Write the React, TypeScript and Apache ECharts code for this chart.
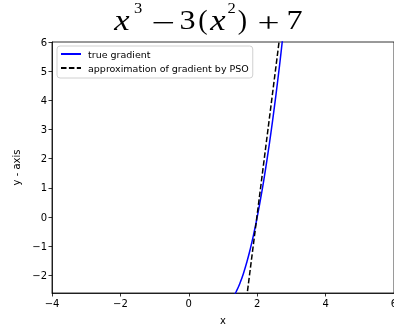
import React, { useEffect, useRef } from "react";
import * as echarts from "echarts";

const trueX = [1.2, 1.3, 1.4, 1.5, 1.6, 1.7, 1.8, 1.9, 2.0, 2.1, 2.2, 2.3, 2.4, 2.5, 2.6, 2.7, 2.8];
const trueY = [-2.88, -2.73, -2.52, -2.25, -1.92, -1.53, -1.08, -0.57, 0, 0.63, 1.32, 2.07, 2.88, 3.75, 4.68, 5.67, 6.72];
const psoX = [1.6, 2.8];
const psoY = [-3.61, 7.49];
const xTicks = [-4, -2, 0, 2, 4, 6];
const yTicks = [-2, -1, 0, 1, 2, 3, 4, 5, 6];
const seriesNames = ["true gradient", "approximation of gradient by PSO"];

const fmt = (v: number) => String(v).replace("-", "\u2212");

export default function App() {
  const ref = useRef<HTMLDivElement>(null);
  useEffect(() => {
    document.body.style.overflow = "hidden";
    const chart = echarts.init(ref.current!, null, { renderer: "svg" });
    const serif = "Liberation Serif";
    const t = (text: string, x: number, y: number, size: number, sx = 1, italic = false) => ({
      type: "text",
      x,
      y,
      scaleX: sx,
      style: {
        text,
        fontFamily: serif,
        fontSize: size,
        fontStyle: italic ? "italic" : "normal",
        fill: "#000",
        align: "center",
        verticalAlign: "middle",
      },
    });
    chart.setOption({
      animation: false,
      grid: { left: 52, top: 42, right: 16, bottom: 35, show: true, borderColor: "#000", borderWidth: 0.8, backgroundColor: "transparent" },
      legend: {
        left: 57,
        top: 46,
        orient: "vertical",
        itemWidth: 20,
        itemHeight: 10,
        itemGap: 4,
        padding: [3, 4, 5, 3],
        backgroundColor: "#fff",
        borderColor: "#d0d0d0",
        borderWidth: 1,
        borderRadius: 3,
        itemStyle: { opacity: 0 },
        textStyle: { fontFamily: "DejaVu Sans", fontSize: 9.5, color: "#000", padding: [0, 0, 0, 2] },
        data: seriesNames,
      },
      xAxis: {
        type: "value",
        min: -4,
        max: 6,
        interval: 2,
        name: "x",
        nameLocation: "middle",
        nameGap: 22,
        nameTextStyle: { fontFamily: "DejaVu Sans", fontSize: 10, color: "#000" },
        axisLine: { show: true, onZero: false, lineStyle: { color: "#000", width: 0.8 } },
        axisTick: { show: true, length: 3.5, lineStyle: { color: "#000", width: 0.8 }, customValues: xTicks },
        axisLabel: { fontFamily: "DejaVu Sans", fontSize: 10, color: "#000", margin: 5, formatter: fmt, customValues: xTicks, showMaxLabel: true },
        splitLine: { show: false },
      },
      yAxis: {
        type: "value",
        min: -2.6,
        max: 6,
        name: "y - axis",
        nameLocation: "middle",
        nameGap: 28,
        nameRotate: 90,
        nameTextStyle: { fontFamily: "DejaVu Sans", fontSize: 10, color: "#000" },
        axisLine: { show: true, onZero: false, lineStyle: { color: "#000", width: 0.8 } },
        axisTick: { show: true, length: 3.5, lineStyle: { color: "#000", width: 0.8 }, customValues: yTicks },
        axisLabel: { fontFamily: "DejaVu Sans", fontSize: 10, color: "#000", margin: 5, formatter: fmt, customValues: yTicks },
        splitLine: { show: false },
      },
      series: [
        {
          name: seriesNames[0],
          type: "line",
          data: trueX.map((x, i) => [x, trueY[i]]),
          smooth: true,
          symbol: "none",
          lineStyle: { color: "#0000ff", width: 1.5 },
          itemStyle: { color: "#0000ff" },
        },
        {
          name: seriesNames[1],
          type: "line",
          data: psoX.map((x, i) => [x, psoY[i]]),
          symbol: "none",
          lineStyle: { color: "#000", width: 1.5, type: [5.5, 2.4] },
          itemStyle: { color: "#000" },
        },
      ],
      graphic: [
        t("x", 122, 19.5, 30, 1.15, true),
        t("3", 138, 7.5, 15, 1.1),
        t("\u2212", 163.5, 23, 28, 1.5),
        t("3", 187.5, 19.5, 28, 1.15),
        t("(", 203, 19.5, 28),
        t("x", 218, 19.5, 30, 1.15, true),
        t("2", 231.5, 7.5, 15, 1.1),
        t(")", 242.5, 19.5, 28),
        t("+", 268.5, 22.5, 28, 1.4),
        t("7", 294.5, 19.5, 28, 1.15),
      ],
    });
    return () => chart.dispose();
  }, []);
  return <div ref={ref} style={{ position: "fixed", left: 0, top: 0, width: 410, height: 330 }} />;
}
